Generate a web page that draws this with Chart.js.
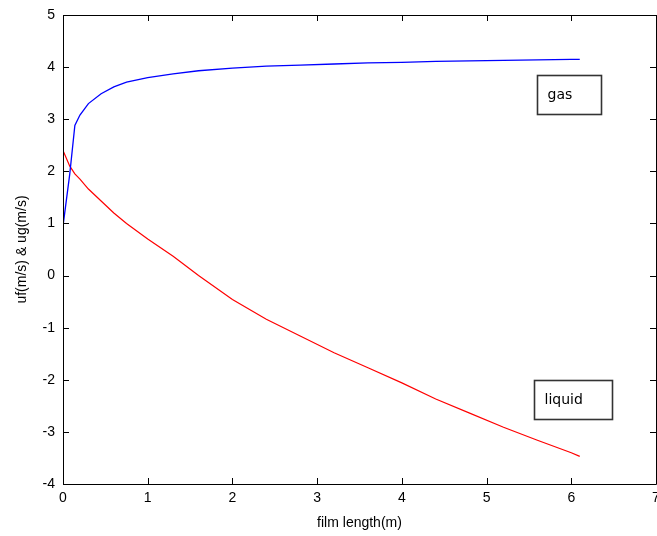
<!DOCTYPE html>
<html>
<head>
<meta charset="utf-8">
<script src="https://cdn.jsdelivr.net/npm/chart.js@4.4.0/dist/chart.umd.min.js"></script>
<style>
  html, body { margin: 0; padding: 0; background: #fff; }
  #wrap { width: 657px; height: 536px; }
</style>
</head>
<body>
<div id="wrap"><canvas id="plot" width="657" height="536"></canvas></div>
<script>
// film length (m)
const filmLength = [0, 0.08, 0.14, 0.2, 0.3, 0.45, 0.6, 0.75, 1.0, 1.3, 1.6, 2.0, 2.4, 2.8, 3.2, 3.6, 4.0, 4.4, 4.8, 5.2, 5.6, 6.0, 6.1];
// gas velocity ug (m/s)
const gasVel = [0.95, 1.95, 2.88, 3.08, 3.3, 3.49, 3.62, 3.71, 3.8, 3.87, 3.93, 3.98, 4.02, 4.04, 4.06, 4.08, 4.09, 4.11, 4.12, 4.13, 4.14, 4.15, 4.15];
// liquid velocity uf (m/s)
const liquidVel = [2.4, 2.1, 1.95, 1.85, 1.66, 1.43, 1.2, 1.0, 0.7, 0.37, 0.0, -0.46, -0.84, -1.16, -1.48, -1.77, -2.06, -2.37, -2.64, -2.91, -3.16, -3.4, -3.47];

const xTicks = [0, 1, 2, 3, 4, 5, 6, 7];
const yTicks = [-4, -3, -2, -1, 0, 1, 2, 3, 4, 5];

// text boxes placed in data coords (left, top)
const labels = [
    { text: 'gas', x: 5.6, y: 3.84, w: 64, h: 39 },
    { text: 'liquid', x: 5.56, y: -2.0, w: 78, h: 39 }
];

function toPoints(xs, ys) {
    let pts = [];
    for (let i = 0; i < xs.length; i++) {
        pts.push({ x: xs[i], y: ys[i] });
    }
    return pts;
}

const fontFamily = '"Liberation Sans", Arial, sans-serif';

// matlab style box with inward ticks
const boxPlugin = {
    id: 'boxPlugin',
    afterDraw(chart) {
        const c = chart.ctx;
        const a = chart.chartArea;
        const xs = chart.scales.x;
        const ys = chart.scales.y;
        const tl = 6;
        c.save();
        c.strokeStyle = '#000';
        c.lineWidth = 1;
        c.beginPath();
        c.rect(Math.round(a.left) + 0.5, Math.round(a.top) + 0.5, Math.round(a.right - a.left), Math.round(a.bottom - a.top));
        xTicks.forEach(v => {
            const px = Math.round(xs.getPixelForValue(v)) + 0.5;
            c.moveTo(px, a.bottom); c.lineTo(px, a.bottom - tl);
            c.moveTo(px, a.top); c.lineTo(px, a.top + tl);
        });
        yTicks.forEach(v => {
            const py = Math.round(ys.getPixelForValue(v)) + 0.5;
            c.moveTo(a.left, py); c.lineTo(a.left + tl, py);
            c.moveTo(a.right, py); c.lineTo(a.right - tl, py);
        });
        c.stroke();

        // text boxes
        c.font = '14px "DejaVu Sans", sans-serif';
        c.textBaseline = 'middle';
        labels.forEach(l => {
            const bx = Math.round(xs.getPixelForValue(l.x)) + 0.5;
            const by = Math.round(ys.getPixelForValue(l.y)) + 0.5;
            c.fillStyle = '#fff';
            c.fillRect(bx, by, l.w, l.h);
            c.strokeStyle = '#333';
            c.lineWidth = 1.6;
            c.strokeRect(bx, by, l.w, l.h);
            c.fillStyle = '#000';
            c.fillText(l.text, bx + 10, by + l.h / 2);
        });
        c.restore();
    }
};

new Chart(document.getElementById('plot'), {
    type: 'scatter',
    data: {
        datasets: [{
            label: 'gas',
            data: toPoints(filmLength, gasVel),
            showLine: true,
            borderColor: '#0000ff',
            borderWidth: 1.3,
            pointRadius: 0,
            tension: 0
        }, {
            label: 'liquid',
            data: toPoints(filmLength, liquidVel),
            showLine: true,
            borderColor: '#ff0000',
            borderWidth: 1.2,
            pointRadius: 0,
            tension: 0
        }]
    },
    options: {
        responsive: false,
        animation: false,
        layout: { padding: { top: 15, right: 1, left: 0, bottom: 0 } },
        plugins: {
            legend: { display: false },
            tooltip: { enabled: false }
        },
        scales: {
            x: {
                type: 'linear',
                min: 0,
                max: 7,
                afterBuildTicks: s => { s.ticks = xTicks.map(v => ({ value: v })); },
                afterFit: s => { s.height = 52; s.paddingRight = 0; s.paddingLeft = 0; },
                grid: { display: false, drawTicks: false },
                border: { display: false },
                ticks: {
                    color: '#000',
                    padding: 6,
                    font: { family: fontFamily, size: 14 },
                    maxRotation: 0
                },
                title: {
                    display: true,
                    text: 'film length(m)',
                    color: '#000',
                    padding: { top: 0, bottom: 4 },
                    font: { family: fontFamily, size: 14 }
                }
            },
            y: {
                min: -4,
                max: 5,
                afterBuildTicks: s => { s.ticks = yTicks.map(v => ({ value: v })); },
                afterFit: s => { s.width = 63; s.paddingTop = 0; s.paddingBottom = 0; },
                grid: { display: false, drawTicks: false },
                border: { display: false },
                ticks: {
                    color: '#000',
                    padding: 8,
                    font: { family: fontFamily, size: 14 }
                },
                title: {
                    display: true,
                    text: 'uf(m/s) & ug(m/s)',
                    color: '#000',
                    padding: { top: 14, bottom: 4 },
                    font: { family: fontFamily, size: 14 }
                }
            }
        }
    },
    plugins: [boxPlugin]
});
</script>
</body>
</html>
